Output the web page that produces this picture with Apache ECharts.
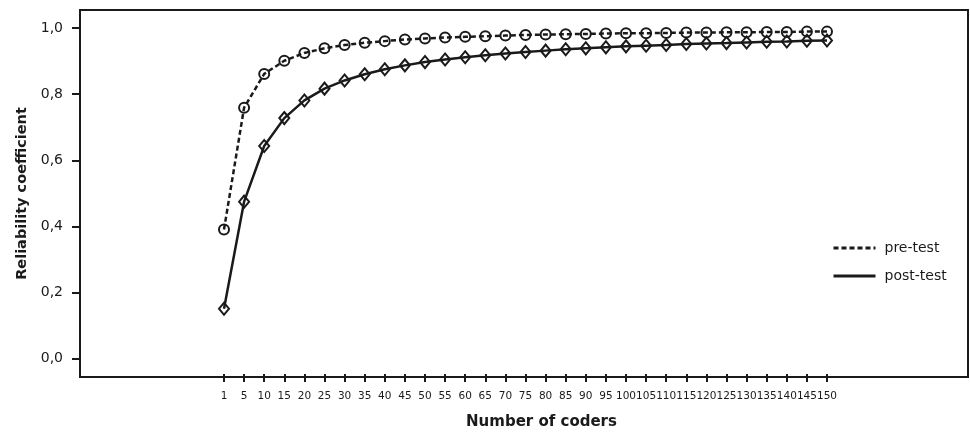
<!DOCTYPE html>
<html>
<head>
<meta charset="utf-8">
<script src="https://cdn.jsdelivr.net/npm/echarts@6/dist/echarts.min.js"></script>
<style>html,body{margin:0;padding:0;background:#fff}#c{width:970px;height:435px}</style>
</head>
<body>
<div id="c"></div>
<script>
var categories = ['1','5','10','15','20','25','30','35','40','45','50','55','60','65','70','75','80','85','90','95','100','105','110','115','120','125','130','135','140','145','150'];
var preTest = [0.385,0.757,0.860,0.900,0.924,0.938,0.948,0.955,0.960,0.965,0.968,0.971,0.973,0.975,0.977,0.979,0.980,0.981,0.982,0.983,0.984,0.984,0.985,0.986,0.986,0.987,0.987,0.988,0.988,0.989,0.989];
var postTest = [0.143,0.470,0.640,0.725,0.779,0.815,0.840,0.859,0.874,0.886,0.896,0.904,0.911,0.917,0.922,0.927,0.931,0.935,0.938,0.941,0.944,0.946,0.948,0.951,0.953,0.954,0.956,0.958,0.959,0.961,0.962];
var yTicks = [0, 0.2, 0.4, 0.6, 0.8, 1.0];
var seriesNames = ['pre-test', 'post-test'];

var INK = '#1a1a1a';
var FONT = '"DejaVu Sans", "Liberation Sans", Arial, sans-serif';
var Y_MIN = -0.056, Y_MAX = 1.055;

var chart = echarts.init(document.getElementById('c'), null, {renderer: 'canvas'});
chart.setOption({
  animation: false,
  backgroundColor: '#fff',
  textStyle: {fontFamily: FONT, color: INK},
  grid: [
    {left: 80, right: 2, top: 10, bottom: 58, show: true, borderColor: INK, borderWidth: 2, backgroundColor: 'transparent'},
    {left: 224, right: 143, top: 10, bottom: 58, show: false}
  ],
  legend: {
    orient: 'vertical',
    left: 827, top: 236,
    itemWidth: 42, itemHeight: 14, itemGap: 14,
    textStyle: {fontSize: 14, color: INK, fontFamily: FONT, padding: [0, 0, 0, 4]},
    itemStyle: {opacity: 0},
    lineStyle: {width: 3},
    data: seriesNames
  },
  xAxis: [
    {gridIndex: 0, type: 'value', min: 0, max: 1, show: false},
    {
      gridIndex: 1, type: 'category', data: categories, boundaryGap: false, position: 'bottom',
      axisLine: {show: false, onZero: false},
      axisTick: {show: true, inside: false, length: 8, alignWithLabel: true, lineStyle: {color: INK, width: 2}},
      axisLabel: {interval: 0, margin: 17, fontSize: 10.5, color: INK, fontFamily: FONT},
      splitLine: {show: false},
      name: 'Number of coders', nameLocation: 'middle', nameGap: 41,
      nameTextStyle: {fontSize: 15, fontWeight: 'bold', color: INK, fontFamily: FONT, padding: [0, 0, 0, 32]}
    }
  ],
  yAxis: [
    {
      gridIndex: 0, type: 'value', min: Y_MIN, max: Y_MAX,
      axisLine: {show: false},
      axisTick: {show: true, inside: false, length: 8, customValues: yTicks, lineStyle: {color: INK, width: 2}},
      axisLabel: {
        customValues: yTicks, margin: 17, fontSize: 14, color: INK, fontFamily: FONT,
        formatter: function (v) { return v.toFixed(1).replace('.', ','); }
      },
      splitLine: {show: false},
      name: 'Reliability coefficient', nameLocation: 'middle', nameGap: 50,
      nameTextStyle: {fontSize: 14.5, fontWeight: 'bold', color: INK, fontFamily: FONT}
    },
    {gridIndex: 1, type: 'value', min: Y_MIN, max: Y_MAX, show: false}
  ],
  series: [
    {
      name: seriesNames[0], type: 'line', xAxisIndex: 1, yAxisIndex: 1,
      data: preTest,
      symbol: 'circle', symbolSize: 10,
      lineStyle: {color: INK, width: 2.5, type: [5, 3]},
      itemStyle: {color: 'rgba(255,255,255,0)', borderColor: INK, borderWidth: 2},
      emphasis: {disabled: true}
    },
    {
      name: seriesNames[1], type: 'line', xAxisIndex: 1, yAxisIndex: 1,
      data: postTest,
      symbol: 'diamond', symbolSize: [10, 12],
      lineStyle: {color: INK, width: 2.5, type: 'solid'},
      itemStyle: {color: 'rgba(255,255,255,0)', borderColor: INK, borderWidth: 2},
      emphasis: {disabled: true}
    }
  ]
});
</script>
</body>
</html>
